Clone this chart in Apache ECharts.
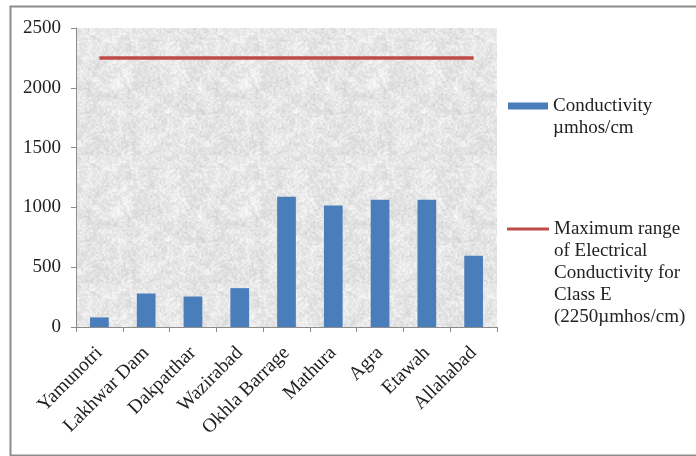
<!DOCTYPE html>
<html>
<head>
<meta charset="utf-8">
<script src="https://cdn.jsdelivr.net/npm/echarts@6/dist/echarts.min.js"></script>
<style>
  html, body { margin: 0; padding: 0; background: #fff; }
  #chart { width: 696px; height: 456px; }
</style>
</head>
<body>
<div id="chart"></div>
<script>
// Sampling stations along the river
const stations = ['Yamunotri', 'Lakhwar Dam', 'Dakpatthar', 'Wazirabad', 'Okhla Barrage',
                  'Mathura', 'Agra', 'Etawah', 'Allahabad'];
// Measured conductivity (µmhos/cm)
const conductivity = [80, 280, 255, 325, 1090, 1015, 1065, 1065, 595];
// Class E limit for electrical conductivity
const classELimit = [2250, 2250, 2250, 2250, 2250, 2250, 2250, 2250, 2250];
// Value axis ticks
const yTicks = { min: 0, max: 2500, interval: 500 };

const barName = 'Conductivity\nµmhos/cm';
const lineName = 'Maximum range\nof Electrical\nConductivity for\nClass E\n(2250µmhos/cm)';

// Mottled "newsprint" paper texture for the plot area (deterministic hash noise)
function hash(x, y) {
  let n = Math.imul(x, 374761393) + Math.imul(y, 668265263);
  n = Math.imul(n ^ (n >>> 13), 1274126177);
  n = n ^ (n >>> 16);
  return (n & 0xffff) / 65535;
}
function valueNoise(x, y, cell, size) {
  const gx = Math.floor(x / cell), gy = Math.floor(y / cell);
  const fx = (x % cell) / cell, fy = (y % cell) / cell;
  const wrap = Math.round(size / cell);
  const v = (i, j) => hash(((gx + i) % wrap + wrap) % wrap, ((gy + j) % wrap + wrap) % wrap + cell * 1000);
  const sx = fx * fx * (3 - 2 * fx), sy = fy * fy * (3 - 2 * fy);
  const a = v(0, 0) + (v(1, 0) - v(0, 0)) * sx;
  const b = v(0, 1) + (v(1, 1) - v(0, 1)) * sx;
  return a + (b - a) * sy;
}
function makeTexture() {
  const size = 128;
  const c = document.createElement('canvas');
  c.width = size; c.height = size;
  const ctx = c.getContext('2d');
  const img = ctx.createImageData(size, size);
  for (let y = 0; y < size; y++) {
    for (let x = 0; x < size; x++) {
      const n = 0.3 * valueNoise(x, y, 8, size) + 0.45 * valueNoise(x, y, 2, size) + 0.25 * hash(x, y);
      const g = Math.round(204 + n * 52);
      const i = (y * size + x) * 4;
      img.data[i] = g; img.data[i + 1] = g; img.data[i + 2] = g; img.data[i + 3] = 255;
    }
  }
  ctx.putImageData(img, 0, 0);
  return c;
}

// Legend swatches sit beside the first text line: a tiny invisible tail
// stretches the icon box so the swatch lands at its top.
const barIcon = 'path://M0,0L40,0L40,7L0,7Z M0,29L0.01,29L0,28.99Z';
const lineIcon = 'path://M0,0L42,0L42,3L0,3Z M0,91L0.01,91L0,90.99Z';

const font = 'Liberation Serif';
const chart = echarts.init(document.getElementById('chart'), null, { renderer: 'canvas' });

chart.setOption({
  animation: false,
  backgroundColor: '#ffffff',
  graphic: [{
    type: 'rect',
    left: 8, top: 4,
    shape: { width: 700, height: 449 },
    style: { fill: 'none', stroke: '#8c8c8c', lineWidth: 2 },
    silent: true,
    z: -1
  }],
  grid: {
    left: 76, right: 199, top: 28, bottom: 129,
    show: true,
    borderWidth: 0,
    backgroundColor: { image: makeTexture(), repeat: 'repeat' }
  },
  legend: [{
    data: [{ name: barName, icon: barIcon }],
    left: 508, top: 95,
    orient: 'vertical',
    padding: 0,
    itemWidth: 40, itemHeight: 29,
    textStyle: { fontFamily: font, fontSize: 19, color: '#222', lineHeight: 22 }
  }, {
    data: [{ name: lineName, icon: lineIcon }],
    left: 507, top: 218,
    orient: 'vertical',
    padding: 0,
    itemWidth: 42, itemHeight: 91,
    textStyle: { fontFamily: font, fontSize: 19, color: '#222', lineHeight: 22 }
  }],
  xAxis: {
    type: 'category',
    data: stations,
    boundaryGap: true,
    axisLine: { lineStyle: { color: '#8c8c8c', width: 1 } },
    axisTick: { show: true, length: 5, lineStyle: { color: '#8c8c8c' } },
    axisLabel: { rotate: 45, margin: 23, fontFamily: font, fontSize: 19.5, color: '#222', interval: 0 }
  },
  yAxis: {
    type: 'value',
    min: yTicks.min, max: yTicks.max, interval: yTicks.interval,
    splitLine: { show: false },
    axisLine: { show: true, lineStyle: { color: '#8c8c8c', width: 1 } },
    axisTick: { show: true, length: 5, lineStyle: { color: '#8c8c8c' } },
    axisLabel: { margin: 15, fontFamily: font, fontSize: 19, color: '#222', formatter: v => String(v) }
  },
  series: [{
    name: barName,
    type: 'bar',
    data: conductivity,
    barWidth: '40%',
    itemStyle: { color: '#4A7EBB' }
  }, {
    name: lineName,
    type: 'line',
    data: classELimit,
    symbol: 'none',
    itemStyle: { color: '#BE4B48' },
    lineStyle: { color: '#BE4B48', width: 3.5 }
  }]
});
</script>
</body>
</html>
